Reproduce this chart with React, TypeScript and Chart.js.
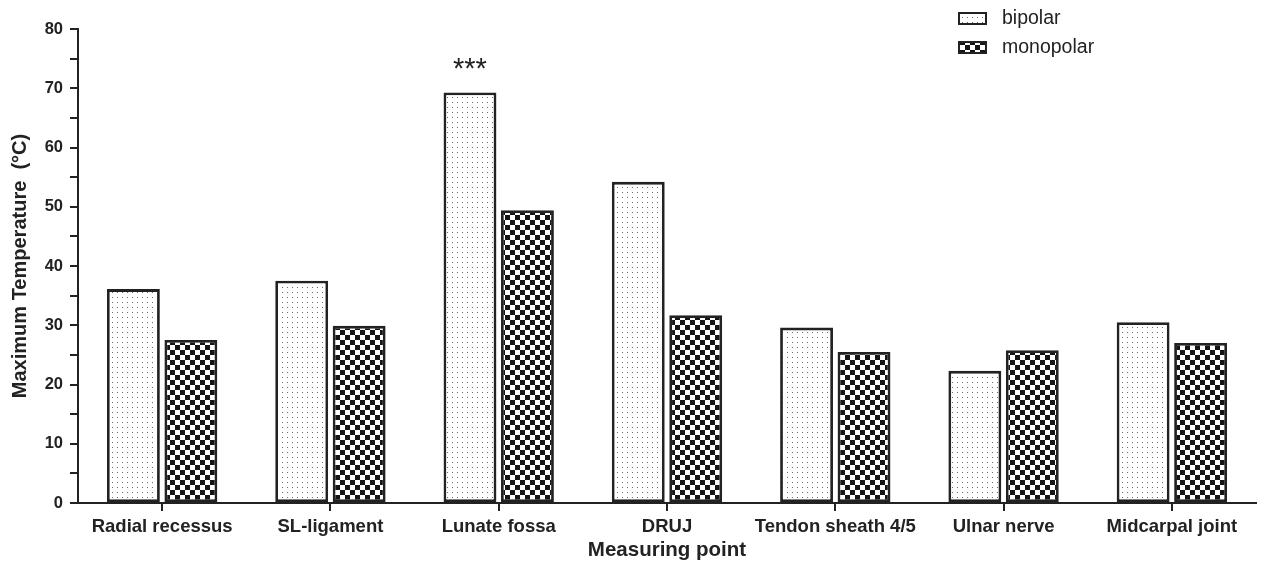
import React, { useEffect, useRef } from 'react';
import { Chart, registerables } from 'chart.js';

Chart.register(...registerables);

const categories = [
  'Radial recessus',
  'SL-ligament',
  'Lunate fossa',
  'DRUJ',
  'Tendon sheath 4/5',
  'Ulnar nerve',
  'Midcarpal joint',
];
const bipolar = [36.1, 37.5, 69.3, 54.2, 29.6, 22.3, 30.5];
const monopolar = [27.5, 29.9, 49.4, 31.7, 25.5, 25.8, 27.0];
const seriesNames = ['bipolar', 'monopolar'];
const significance = ['', '', '***', '', '', '', ''];
const yMin = 0;
const yMax = 80;
const yStep = 5;
const yLabelStep = 10;

const FONT = "'Liberation Sans', Arial, Helvetica, sans-serif";
const INK = '#222222';

function makeDots(): CanvasPattern | string {
  const c = document.createElement('canvas');
  c.width = 5;
  c.height = 5;
  const g = c.getContext('2d');
  if (!g) return '#eee';
  g.fillStyle = '#ffffff';
  g.fillRect(0, 0, 5, 5);
  g.fillStyle = '#6a6a6a';
  g.fillRect(2, 2, 1, 1);
  const p = g.createPattern(c, 'repeat');
  return p || '#eee';
}

function makeChecks(): CanvasPattern | string {
  const c = document.createElement('canvas');
  c.width = 10;
  c.height = 10;
  const g = c.getContext('2d');
  if (!g) return '#555';
  g.fillStyle = '#ffffff';
  g.fillRect(0, 0, 10, 10);
  g.fillStyle = '#151515';
  g.fillRect(0, 0, 5, 5);
  g.fillRect(5, 5, 5, 5);
  const p = g.createPattern(c, 'repeat');
  return p || '#555';
}

export default function App() {
  const ref = useRef<HTMLCanvasElement | null>(null);

  useEffect(() => {
    if (!ref.current) return;
    const dots = makeDots();
    const checks = makeChecks();
    const fills = [dots, checks];

    const legendPlugin = {
      id: 'customLegend',
      afterDraw(chart: any) {
        const ctx = chart.ctx;
        ctx.save();
        const x = 958;
        const ys = [12, 41];
        seriesNames.forEach((name, i) => {
          ctx.fillStyle = fills[i];
          ctx.fillRect(x, ys[i], 29, 13);
          ctx.lineWidth = 2;
          ctx.strokeStyle = INK;
          ctx.strokeRect(x + 1, ys[i] + 1, 27, 11);
          ctx.fillStyle = INK;
          ctx.font = `19.5px ${FONT}`;
          ctx.textBaseline = 'middle';
          ctx.textAlign = 'left';
          ctx.fillText(name, 1002, ys[i] + 7);
        });
        ctx.restore();
      },
    };

    const sigPlugin = {
      id: 'significance',
      afterDatasetsDraw(chart: any) {
        const ctx = chart.ctx;
        const meta = chart.getDatasetMeta(0);
        ctx.save();
        ctx.fillStyle = INK;
        ctx.font = `29px ${FONT}`;
        ctx.textAlign = 'center';
        ctx.textBaseline = 'middle';
        significance.forEach((s, i) => {
          if (!s) return;
          const bar = meta.data[i];
          ctx.fillText(s, bar.x, bar.y - 22);
        });
        ctx.restore();
      },
    };

    const chart = new Chart(ref.current, {
      type: 'bar',
      data: {
        labels: categories,
        datasets: [
          {
            label: seriesNames[0],
            data: bipolar,
            backgroundColor: dots as any,
            borderColor: INK,
            borderWidth: 2.8,
            borderSkipped: false,
            categoryPercentage: 0.683,
            barPercentage: 0.92,
          },
          {
            label: seriesNames[1],
            data: monopolar,
            backgroundColor: checks as any,
            borderColor: INK,
            borderWidth: 2.8,
            borderSkipped: false,
            categoryPercentage: 0.683,
            barPercentage: 0.92,
          },
        ],
      },
      options: {
        responsive: false,
        animation: false,
        devicePixelRatio: 1,
        layout: { padding: { left: 0, top: 29, right: 7, bottom: 0 } },
        plugins: {
          legend: { display: false },
          tooltip: { enabled: false },
          title: { display: false },
        },
        scales: {
          x: {
            type: 'category',
            offset: true,
            grid: {
              display: true,
              drawOnChartArea: false,
              drawTicks: true,
              tickLength: 8,
              offset: false,
              color: INK,
              lineWidth: 2,
            },
            border: { display: true, color: INK, width: 2 },
            ticks: {
              color: INK,
              font: { family: FONT, size: 18.5, weight: 'bold' },
              padding: 5,
              maxRotation: 0,
              minRotation: 0,
              autoSkip: false,
            },
            title: {
              display: true,
              text: 'Measuring point',
              color: INK,
              font: { family: FONT, size: 20.5, weight: 'bold' },
              padding: { top: 0, bottom: 4 },
            },
            afterFit(scale: any) {
              scale.height = 64;
            },
          },
          y: {
            min: yMin,
            max: yMax,
            grid: {
              display: true,
              drawOnChartArea: false,
              drawTicks: true,
              tickLength: 8,
              color: INK,
              lineWidth: 2,
            },
            border: { display: true, color: INK, width: 2 },
            ticks: {
              stepSize: yStep,
              color: INK,
              padding: 7,
              font: { family: FONT, size: 16.5, weight: 'bold' },
              callback: (v: any) => (Number(v) % yLabelStep === 0 ? String(v) : ''),
            },
            title: {
              display: true,
              text: 'Maximum Temperature  (°C)',
              color: INK,
              font: { family: FONT, size: 20, weight: 'bold' },
              padding: { top: 8, bottom: 0 },
            },
            afterFit(scale: any) {
              scale.width = 78;
            },
          },
        },
      },
      plugins: [legendPlugin, sigPlugin],
    });

    return () => {
      chart.destroy();
    };
  }, []);

  return (
    <div style={{ position: 'fixed', left: 0, top: 0, width: 1263, height: 567, background: '#fff' }}>
      <canvas ref={ref} width={1263} height={567} style={{ display: 'block' }} />
    </div>
  );
}
